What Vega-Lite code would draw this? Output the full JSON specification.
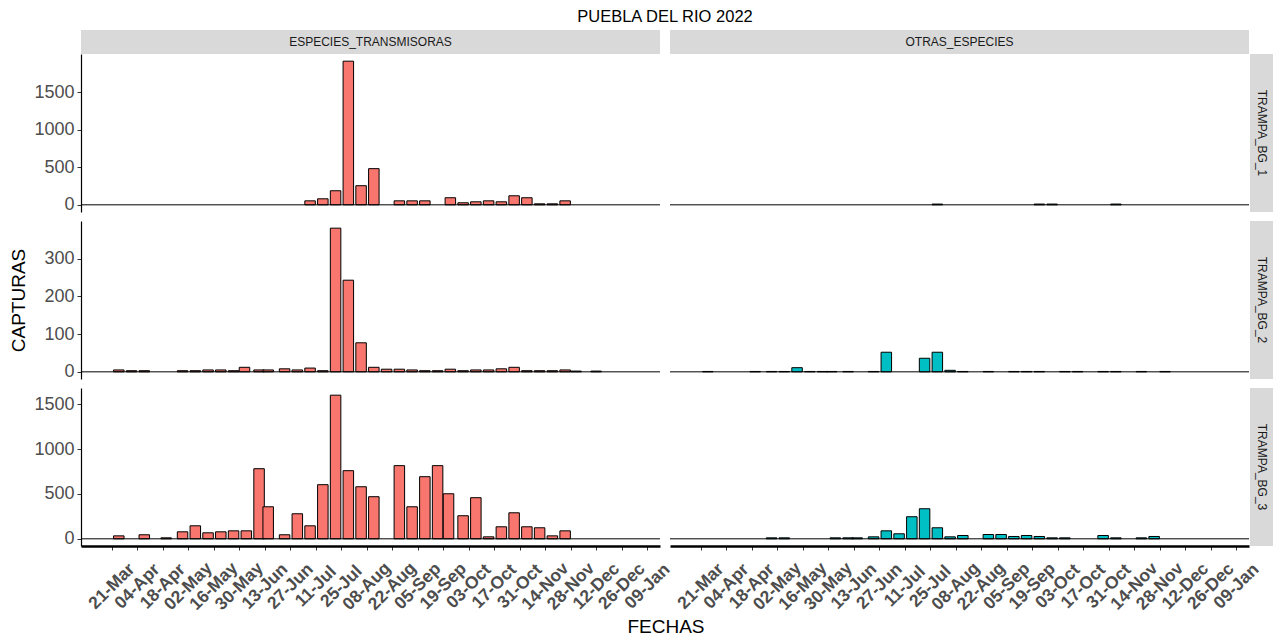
{
  "$schema": "https://vega.github.io/schema/vega-lite/v6.json",
  "padding": {"left": 9, "top": 8, "right": 5, "bottom": 5},
  "config": {
    "font": "Liberation Sans",
    "view": {"stroke": null},
    "axis": {"grid": false},
    "axisY": {"title": null, "format": "d", "labelFontSize": 18, "labelColor": "#4D4D4D", "labelPadding": 3, "tickSize": 4, "tickColor": "#333333", "domainColor": "black", "domainWidth": 1.2},
    "axisX": {"title": null, "labelAngle": -45, "labelAlign": "center", "labelBaseline": "middle", "labelPadding": 36, "labelFontSize": 17.5, "labelFontWeight": "bold", "labelColor": "#4D4D4D", "labelOverlap": false, "labelFlush": false, "labelBound": false, "tickSize": 4, "tickColor": "#333333", "tickWidth": 1, "domainColor": "black", "domainWidth": 2.5}
  },
  "datasets": {
    "capturas": [
      {"trampa": "TRAMPA_BG_1", "grupo": "ESPECIES_TRANSMISORAS", "fecha": "2022-07-08", "capturas": 53},
      {"trampa": "TRAMPA_BG_1", "grupo": "ESPECIES_TRANSMISORAS", "fecha": "2022-07-15", "capturas": 80},
      {"trampa": "TRAMPA_BG_1", "grupo": "ESPECIES_TRANSMISORAS", "fecha": "2022-07-22", "capturas": 187},
      {"trampa": "TRAMPA_BG_1", "grupo": "ESPECIES_TRANSMISORAS", "fecha": "2022-07-29", "capturas": 1910},
      {"trampa": "TRAMPA_BG_1", "grupo": "ESPECIES_TRANSMISORAS", "fecha": "2022-08-05", "capturas": 254},
      {"trampa": "TRAMPA_BG_1", "grupo": "ESPECIES_TRANSMISORAS", "fecha": "2022-08-12", "capturas": 481},
      {"trampa": "TRAMPA_BG_1", "grupo": "ESPECIES_TRANSMISORAS", "fecha": "2022-08-26", "capturas": 53},
      {"trampa": "TRAMPA_BG_1", "grupo": "ESPECIES_TRANSMISORAS", "fecha": "2022-09-02", "capturas": 53},
      {"trampa": "TRAMPA_BG_1", "grupo": "ESPECIES_TRANSMISORAS", "fecha": "2022-09-09", "capturas": 53},
      {"trampa": "TRAMPA_BG_1", "grupo": "ESPECIES_TRANSMISORAS", "fecha": "2022-09-23", "capturas": 94},
      {"trampa": "TRAMPA_BG_1", "grupo": "ESPECIES_TRANSMISORAS", "fecha": "2022-09-30", "capturas": 27},
      {"trampa": "TRAMPA_BG_1", "grupo": "ESPECIES_TRANSMISORAS", "fecha": "2022-10-07", "capturas": 40},
      {"trampa": "TRAMPA_BG_1", "grupo": "ESPECIES_TRANSMISORAS", "fecha": "2022-10-14", "capturas": 53},
      {"trampa": "TRAMPA_BG_1", "grupo": "ESPECIES_TRANSMISORAS", "fecha": "2022-10-21", "capturas": 40},
      {"trampa": "TRAMPA_BG_1", "grupo": "ESPECIES_TRANSMISORAS", "fecha": "2022-10-28", "capturas": 120},
      {"trampa": "TRAMPA_BG_1", "grupo": "ESPECIES_TRANSMISORAS", "fecha": "2022-11-04", "capturas": 94},
      {"trampa": "TRAMPA_BG_1", "grupo": "ESPECIES_TRANSMISORAS", "fecha": "2022-11-11", "capturas": 13},
      {"trampa": "TRAMPA_BG_1", "grupo": "ESPECIES_TRANSMISORAS", "fecha": "2022-11-18", "capturas": 13},
      {"trampa": "TRAMPA_BG_1", "grupo": "ESPECIES_TRANSMISORAS", "fecha": "2022-11-25", "capturas": 53},
      {"trampa": "TRAMPA_BG_1", "grupo": "OTRAS_ESPECIES", "fecha": "2022-07-29", "capturas": 10},
      {"trampa": "TRAMPA_BG_1", "grupo": "OTRAS_ESPECIES", "fecha": "2022-09-23", "capturas": 10},
      {"trampa": "TRAMPA_BG_1", "grupo": "OTRAS_ESPECIES", "fecha": "2022-09-30", "capturas": 10},
      {"trampa": "TRAMPA_BG_1", "grupo": "OTRAS_ESPECIES", "fecha": "2022-11-04", "capturas": 10},
      {"trampa": "TRAMPA_BG_2", "grupo": "ESPECIES_TRANSMISORAS", "fecha": "2022-03-25", "capturas": 5},
      {"trampa": "TRAMPA_BG_2", "grupo": "ESPECIES_TRANSMISORAS", "fecha": "2022-04-01", "capturas": 3},
      {"trampa": "TRAMPA_BG_2", "grupo": "ESPECIES_TRANSMISORAS", "fecha": "2022-04-08", "capturas": 3},
      {"trampa": "TRAMPA_BG_2", "grupo": "ESPECIES_TRANSMISORAS", "fecha": "2022-04-29", "capturas": 3},
      {"trampa": "TRAMPA_BG_2", "grupo": "ESPECIES_TRANSMISORAS", "fecha": "2022-05-06", "capturas": 3},
      {"trampa": "TRAMPA_BG_2", "grupo": "ESPECIES_TRANSMISORAS", "fecha": "2022-05-13", "capturas": 5},
      {"trampa": "TRAMPA_BG_2", "grupo": "ESPECIES_TRANSMISORAS", "fecha": "2022-05-20", "capturas": 5},
      {"trampa": "TRAMPA_BG_2", "grupo": "ESPECIES_TRANSMISORAS", "fecha": "2022-05-27", "capturas": 3},
      {"trampa": "TRAMPA_BG_2", "grupo": "ESPECIES_TRANSMISORAS", "fecha": "2022-06-02", "capturas": 12},
      {"trampa": "TRAMPA_BG_2", "grupo": "ESPECIES_TRANSMISORAS", "fecha": "2022-06-10", "capturas": 5},
      {"trampa": "TRAMPA_BG_2", "grupo": "ESPECIES_TRANSMISORAS", "fecha": "2022-06-15", "capturas": 5},
      {"trampa": "TRAMPA_BG_2", "grupo": "ESPECIES_TRANSMISORAS", "fecha": "2022-06-24", "capturas": 8},
      {"trampa": "TRAMPA_BG_2", "grupo": "ESPECIES_TRANSMISORAS", "fecha": "2022-07-01", "capturas": 5},
      {"trampa": "TRAMPA_BG_2", "grupo": "ESPECIES_TRANSMISORAS", "fecha": "2022-07-08", "capturas": 10},
      {"trampa": "TRAMPA_BG_2", "grupo": "ESPECIES_TRANSMISORAS", "fecha": "2022-07-15", "capturas": 3},
      {"trampa": "TRAMPA_BG_2", "grupo": "ESPECIES_TRANSMISORAS", "fecha": "2022-07-22", "capturas": 381},
      {"trampa": "TRAMPA_BG_2", "grupo": "ESPECIES_TRANSMISORAS", "fecha": "2022-07-29", "capturas": 243},
      {"trampa": "TRAMPA_BG_2", "grupo": "ESPECIES_TRANSMISORAS", "fecha": "2022-08-05", "capturas": 77},
      {"trampa": "TRAMPA_BG_2", "grupo": "ESPECIES_TRANSMISORAS", "fecha": "2022-08-12", "capturas": 12},
      {"trampa": "TRAMPA_BG_2", "grupo": "ESPECIES_TRANSMISORAS", "fecha": "2022-08-19", "capturas": 7},
      {"trampa": "TRAMPA_BG_2", "grupo": "ESPECIES_TRANSMISORAS", "fecha": "2022-08-26", "capturas": 7},
      {"trampa": "TRAMPA_BG_2", "grupo": "ESPECIES_TRANSMISORAS", "fecha": "2022-09-02", "capturas": 5},
      {"trampa": "TRAMPA_BG_2", "grupo": "ESPECIES_TRANSMISORAS", "fecha": "2022-09-09", "capturas": 3},
      {"trampa": "TRAMPA_BG_2", "grupo": "ESPECIES_TRANSMISORAS", "fecha": "2022-09-16", "capturas": 3},
      {"trampa": "TRAMPA_BG_2", "grupo": "ESPECIES_TRANSMISORAS", "fecha": "2022-09-23", "capturas": 7},
      {"trampa": "TRAMPA_BG_2", "grupo": "ESPECIES_TRANSMISORAS", "fecha": "2022-09-30", "capturas": 3},
      {"trampa": "TRAMPA_BG_2", "grupo": "ESPECIES_TRANSMISORAS", "fecha": "2022-10-07", "capturas": 5},
      {"trampa": "TRAMPA_BG_2", "grupo": "ESPECIES_TRANSMISORAS", "fecha": "2022-10-14", "capturas": 5},
      {"trampa": "TRAMPA_BG_2", "grupo": "ESPECIES_TRANSMISORAS", "fecha": "2022-10-21", "capturas": 8},
      {"trampa": "TRAMPA_BG_2", "grupo": "ESPECIES_TRANSMISORAS", "fecha": "2022-10-28", "capturas": 12},
      {"trampa": "TRAMPA_BG_2", "grupo": "ESPECIES_TRANSMISORAS", "fecha": "2022-11-04", "capturas": 3},
      {"trampa": "TRAMPA_BG_2", "grupo": "ESPECIES_TRANSMISORAS", "fecha": "2022-11-11", "capturas": 3},
      {"trampa": "TRAMPA_BG_2", "grupo": "ESPECIES_TRANSMISORAS", "fecha": "2022-11-18", "capturas": 3},
      {"trampa": "TRAMPA_BG_2", "grupo": "ESPECIES_TRANSMISORAS", "fecha": "2022-11-25", "capturas": 5},
      {"trampa": "TRAMPA_BG_2", "grupo": "ESPECIES_TRANSMISORAS", "fecha": "2022-12-01", "capturas": 2},
      {"trampa": "TRAMPA_BG_2", "grupo": "ESPECIES_TRANSMISORAS", "fecha": "2022-12-12", "capturas": 2},
      {"trampa": "TRAMPA_BG_2", "grupo": "OTRAS_ESPECIES", "fecha": "2022-03-25", "capturas": 1},
      {"trampa": "TRAMPA_BG_2", "grupo": "OTRAS_ESPECIES", "fecha": "2022-04-20", "capturas": 1},
      {"trampa": "TRAMPA_BG_2", "grupo": "OTRAS_ESPECIES", "fecha": "2022-04-29", "capturas": 1},
      {"trampa": "TRAMPA_BG_2", "grupo": "OTRAS_ESPECIES", "fecha": "2022-05-06", "capturas": 1},
      {"trampa": "TRAMPA_BG_2", "grupo": "OTRAS_ESPECIES", "fecha": "2022-05-13", "capturas": 11},
      {"trampa": "TRAMPA_BG_2", "grupo": "OTRAS_ESPECIES", "fecha": "2022-05-20", "capturas": 1},
      {"trampa": "TRAMPA_BG_2", "grupo": "OTRAS_ESPECIES", "fecha": "2022-05-27", "capturas": 1},
      {"trampa": "TRAMPA_BG_2", "grupo": "OTRAS_ESPECIES", "fecha": "2022-06-01", "capturas": 1},
      {"trampa": "TRAMPA_BG_2", "grupo": "OTRAS_ESPECIES", "fecha": "2022-06-10", "capturas": 1},
      {"trampa": "TRAMPA_BG_2", "grupo": "OTRAS_ESPECIES", "fecha": "2022-06-24", "capturas": 1},
      {"trampa": "TRAMPA_BG_2", "grupo": "OTRAS_ESPECIES", "fecha": "2022-07-01", "capturas": 52},
      {"trampa": "TRAMPA_BG_2", "grupo": "OTRAS_ESPECIES", "fecha": "2022-07-22", "capturas": 36},
      {"trampa": "TRAMPA_BG_2", "grupo": "OTRAS_ESPECIES", "fecha": "2022-07-29", "capturas": 52},
      {"trampa": "TRAMPA_BG_2", "grupo": "OTRAS_ESPECIES", "fecha": "2022-08-05", "capturas": 4},
      {"trampa": "TRAMPA_BG_2", "grupo": "OTRAS_ESPECIES", "fecha": "2022-08-12", "capturas": 1},
      {"trampa": "TRAMPA_BG_2", "grupo": "OTRAS_ESPECIES", "fecha": "2022-08-26", "capturas": 1},
      {"trampa": "TRAMPA_BG_2", "grupo": "OTRAS_ESPECIES", "fecha": "2022-09-09", "capturas": 1},
      {"trampa": "TRAMPA_BG_2", "grupo": "OTRAS_ESPECIES", "fecha": "2022-09-16", "capturas": 1},
      {"trampa": "TRAMPA_BG_2", "grupo": "OTRAS_ESPECIES", "fecha": "2022-09-23", "capturas": 1},
      {"trampa": "TRAMPA_BG_2", "grupo": "OTRAS_ESPECIES", "fecha": "2022-10-07", "capturas": 1},
      {"trampa": "TRAMPA_BG_2", "grupo": "OTRAS_ESPECIES", "fecha": "2022-10-14", "capturas": 1},
      {"trampa": "TRAMPA_BG_2", "grupo": "OTRAS_ESPECIES", "fecha": "2022-10-28", "capturas": 1},
      {"trampa": "TRAMPA_BG_2", "grupo": "OTRAS_ESPECIES", "fecha": "2022-11-04", "capturas": 1},
      {"trampa": "TRAMPA_BG_2", "grupo": "OTRAS_ESPECIES", "fecha": "2022-11-18", "capturas": 1},
      {"trampa": "TRAMPA_BG_2", "grupo": "OTRAS_ESPECIES", "fecha": "2022-12-01", "capturas": 1},
      {"trampa": "TRAMPA_BG_3", "grupo": "ESPECIES_TRANSMISORAS", "fecha": "2022-03-25", "capturas": 33},
      {"trampa": "TRAMPA_BG_3", "grupo": "ESPECIES_TRANSMISORAS", "fecha": "2022-04-08", "capturas": 45},
      {"trampa": "TRAMPA_BG_3", "grupo": "ESPECIES_TRANSMISORAS", "fecha": "2022-04-20", "capturas": 11},
      {"trampa": "TRAMPA_BG_3", "grupo": "ESPECIES_TRANSMISORAS", "fecha": "2022-04-29", "capturas": 78},
      {"trampa": "TRAMPA_BG_3", "grupo": "ESPECIES_TRANSMISORAS", "fecha": "2022-05-06", "capturas": 145},
      {"trampa": "TRAMPA_BG_3", "grupo": "ESPECIES_TRANSMISORAS", "fecha": "2022-05-13", "capturas": 67},
      {"trampa": "TRAMPA_BG_3", "grupo": "ESPECIES_TRANSMISORAS", "fecha": "2022-05-20", "capturas": 78},
      {"trampa": "TRAMPA_BG_3", "grupo": "ESPECIES_TRANSMISORAS", "fecha": "2022-05-27", "capturas": 89},
      {"trampa": "TRAMPA_BG_3", "grupo": "ESPECIES_TRANSMISORAS", "fecha": "2022-06-03", "capturas": 89},
      {"trampa": "TRAMPA_BG_3", "grupo": "ESPECIES_TRANSMISORAS", "fecha": "2022-06-10", "capturas": 781},
      {"trampa": "TRAMPA_BG_3", "grupo": "ESPECIES_TRANSMISORAS", "fecha": "2022-06-15", "capturas": 357},
      {"trampa": "TRAMPA_BG_3", "grupo": "ESPECIES_TRANSMISORAS", "fecha": "2022-06-24", "capturas": 45},
      {"trampa": "TRAMPA_BG_3", "grupo": "ESPECIES_TRANSMISORAS", "fecha": "2022-07-01", "capturas": 279},
      {"trampa": "TRAMPA_BG_3", "grupo": "ESPECIES_TRANSMISORAS", "fecha": "2022-07-08", "capturas": 145},
      {"trampa": "TRAMPA_BG_3", "grupo": "ESPECIES_TRANSMISORAS", "fecha": "2022-07-15", "capturas": 603},
      {"trampa": "TRAMPA_BG_3", "grupo": "ESPECIES_TRANSMISORAS", "fecha": "2022-07-22", "capturas": 1600},
      {"trampa": "TRAMPA_BG_3", "grupo": "ESPECIES_TRANSMISORAS", "fecha": "2022-07-29", "capturas": 759},
      {"trampa": "TRAMPA_BG_3", "grupo": "ESPECIES_TRANSMISORAS", "fecha": "2022-08-05", "capturas": 580},
      {"trampa": "TRAMPA_BG_3", "grupo": "ESPECIES_TRANSMISORAS", "fecha": "2022-08-12", "capturas": 469},
      {"trampa": "TRAMPA_BG_3", "grupo": "ESPECIES_TRANSMISORAS", "fecha": "2022-08-26", "capturas": 815},
      {"trampa": "TRAMPA_BG_3", "grupo": "ESPECIES_TRANSMISORAS", "fecha": "2022-09-02", "capturas": 357},
      {"trampa": "TRAMPA_BG_3", "grupo": "ESPECIES_TRANSMISORAS", "fecha": "2022-09-09", "capturas": 692},
      {"trampa": "TRAMPA_BG_3", "grupo": "ESPECIES_TRANSMISORAS", "fecha": "2022-09-16", "capturas": 815},
      {"trampa": "TRAMPA_BG_3", "grupo": "ESPECIES_TRANSMISORAS", "fecha": "2022-09-22", "capturas": 502},
      {"trampa": "TRAMPA_BG_3", "grupo": "ESPECIES_TRANSMISORAS", "fecha": "2022-09-30", "capturas": 257},
      {"trampa": "TRAMPA_BG_3", "grupo": "ESPECIES_TRANSMISORAS", "fecha": "2022-10-07", "capturas": 458},
      {"trampa": "TRAMPA_BG_3", "grupo": "ESPECIES_TRANSMISORAS", "fecha": "2022-10-14", "capturas": 22},
      {"trampa": "TRAMPA_BG_3", "grupo": "ESPECIES_TRANSMISORAS", "fecha": "2022-10-21", "capturas": 134},
      {"trampa": "TRAMPA_BG_3", "grupo": "ESPECIES_TRANSMISORAS", "fecha": "2022-10-28", "capturas": 290},
      {"trampa": "TRAMPA_BG_3", "grupo": "ESPECIES_TRANSMISORAS", "fecha": "2022-11-04", "capturas": 134},
      {"trampa": "TRAMPA_BG_3", "grupo": "ESPECIES_TRANSMISORAS", "fecha": "2022-11-11", "capturas": 123},
      {"trampa": "TRAMPA_BG_3", "grupo": "ESPECIES_TRANSMISORAS", "fecha": "2022-11-18", "capturas": 33},
      {"trampa": "TRAMPA_BG_3", "grupo": "ESPECIES_TRANSMISORAS", "fecha": "2022-11-25", "capturas": 89},
      {"trampa": "TRAMPA_BG_3", "grupo": "OTRAS_ESPECIES", "fecha": "2022-04-29", "capturas": 11},
      {"trampa": "TRAMPA_BG_3", "grupo": "OTRAS_ESPECIES", "fecha": "2022-05-06", "capturas": 11},
      {"trampa": "TRAMPA_BG_3", "grupo": "OTRAS_ESPECIES", "fecha": "2022-06-03", "capturas": 11},
      {"trampa": "TRAMPA_BG_3", "grupo": "OTRAS_ESPECIES", "fecha": "2022-06-10", "capturas": 11},
      {"trampa": "TRAMPA_BG_3", "grupo": "OTRAS_ESPECIES", "fecha": "2022-06-15", "capturas": 11},
      {"trampa": "TRAMPA_BG_3", "grupo": "OTRAS_ESPECIES", "fecha": "2022-06-24", "capturas": 22},
      {"trampa": "TRAMPA_BG_3", "grupo": "OTRAS_ESPECIES", "fecha": "2022-07-01", "capturas": 89},
      {"trampa": "TRAMPA_BG_3", "grupo": "OTRAS_ESPECIES", "fecha": "2022-07-08", "capturas": 56},
      {"trampa": "TRAMPA_BG_3", "grupo": "OTRAS_ESPECIES", "fecha": "2022-07-15", "capturas": 246},
      {"trampa": "TRAMPA_BG_3", "grupo": "OTRAS_ESPECIES", "fecha": "2022-07-22", "capturas": 335},
      {"trampa": "TRAMPA_BG_3", "grupo": "OTRAS_ESPECIES", "fecha": "2022-07-29", "capturas": 123},
      {"trampa": "TRAMPA_BG_3", "grupo": "OTRAS_ESPECIES", "fecha": "2022-08-05", "capturas": 22},
      {"trampa": "TRAMPA_BG_3", "grupo": "OTRAS_ESPECIES", "fecha": "2022-08-12", "capturas": 37},
      {"trampa": "TRAMPA_BG_3", "grupo": "OTRAS_ESPECIES", "fecha": "2022-08-26", "capturas": 48},
      {"trampa": "TRAMPA_BG_3", "grupo": "OTRAS_ESPECIES", "fecha": "2022-09-02", "capturas": 48},
      {"trampa": "TRAMPA_BG_3", "grupo": "OTRAS_ESPECIES", "fecha": "2022-09-09", "capturas": 26},
      {"trampa": "TRAMPA_BG_3", "grupo": "OTRAS_ESPECIES", "fecha": "2022-09-16", "capturas": 37},
      {"trampa": "TRAMPA_BG_3", "grupo": "OTRAS_ESPECIES", "fecha": "2022-09-23", "capturas": 26},
      {"trampa": "TRAMPA_BG_3", "grupo": "OTRAS_ESPECIES", "fecha": "2022-09-30", "capturas": 11},
      {"trampa": "TRAMPA_BG_3", "grupo": "OTRAS_ESPECIES", "fecha": "2022-10-07", "capturas": 11},
      {"trampa": "TRAMPA_BG_3", "grupo": "OTRAS_ESPECIES", "fecha": "2022-10-28", "capturas": 37},
      {"trampa": "TRAMPA_BG_3", "grupo": "OTRAS_ESPECIES", "fecha": "2022-11-04", "capturas": 11},
      {"trampa": "TRAMPA_BG_3", "grupo": "OTRAS_ESPECIES", "fecha": "2022-11-18", "capturas": 11},
      {"trampa": "TRAMPA_BG_3", "grupo": "OTRAS_ESPECIES", "fecha": "2022-11-25", "capturas": 26}
    ]
  },
  "columns": 5,
  "bounds": "flush",
  "align": "each",
  "spacing": 0,
  "concat": [
    {
      "width": 579, "height": 24,
      "title": {"text": "PUEBLA DEL RIO 2022", "fontSize": 16.5, "fontWeight": "normal", "color": "black", "anchor": "middle", "frame": "group", "dx": 294.5, "offset": 5},
      "view": {"fill": "#D9D9D9", "stroke": null},
      "data": {"values": [{"t": "ESPECIES_TRANSMISORAS"}]},
      "mark": {"type": "text", "fontSize": 12, "color": "#1A1A1A"},
      "encoding": {"text": {"field": "t", "type": "nominal"}}
    },
    {"width": 10, "height": 1, "data": {"values": []}, "mark": {"type": "point", "opacity": 0}},
    {
      "width": 579, "height": 24,
      "view": {"fill": "#D9D9D9", "stroke": null},
      "data": {"values": [{"t": "OTRAS_ESPECIES"}]},
      "mark": {"type": "text", "fontSize": 12, "color": "#1A1A1A"},
      "encoding": {"text": {"field": "t", "type": "nominal"}}
    },
    {"width": 1, "height": 1, "data": {"values": []}, "mark": {"type": "point", "opacity": 0}},
    {"width": 1, "height": 1, "data": {"values": []}, "mark": {"type": "point", "opacity": 0}},

    {
      "width": 579, "height": 158,
      "layer": [
        {
          "data": {"name": "capturas"},
          "transform": [{"filter": "datum.trampa === 'TRAMPA_BG_1' && datum.grupo === 'ESPECIES_TRANSMISORAS'"}],
          "mark": {"type": "bar", "size": 10.5, "color": "#F8766D", "stroke": "black", "strokeWidth": 1},
          "encoding": {
            "x": {"field": "fecha", "type": "temporal", "scale": {"type": "utc", "domain": [{"year": 2022, "month": 3, "date": 7, "utc": true}, {"year": 2023, "month": 1, "date": 13, "hours": 8, "utc": true}]}, "axis": null},
            "y": {"field": "capturas", "type": "quantitative", "scale": {"domain": [-95.5, 2005.5], "nice": false}, "axis": {"values": [0, 500, 1000, 1500]}}
          }
        },
        {"data": {"values": [{}]}, "mark": {"type": "rule", "color": "black", "strokeWidth": 1}, "encoding": {"y": {"datum": 0, "type": "quantitative"}}}
      ]
    },
    {"width": 10, "height": 1, "data": {"values": []}, "mark": {"type": "point", "opacity": 0}},
    {
      "width": 579, "height": 158,
      "layer": [
        {
          "data": {"name": "capturas"},
          "transform": [{"filter": "datum.trampa === 'TRAMPA_BG_1' && datum.grupo === 'OTRAS_ESPECIES'"}],
          "mark": {"type": "bar", "size": 10.5, "color": "#00BFC4", "stroke": "black", "strokeWidth": 1},
          "encoding": {
            "x": {"field": "fecha", "type": "temporal", "scale": {"type": "utc", "domain": [{"year": 2022, "month": 3, "date": 7, "utc": true}, {"year": 2023, "month": 1, "date": 13, "hours": 8, "utc": true}]}, "axis": null},
            "y": {"field": "capturas", "type": "quantitative", "scale": {"domain": [-95.5, 2005.5], "nice": false}, "axis": null}
          }
        },
        {"data": {"values": [{}]}, "mark": {"type": "rule", "color": "black", "strokeWidth": 1}, "encoding": {"y": {"datum": 0, "type": "quantitative"}}}
      ]
    },
    {"width": 1, "height": 1, "data": {"values": []}, "mark": {"type": "point", "opacity": 0}},
    {
      "width": 23, "height": 158,
      "view": {"fill": "#D9D9D9", "stroke": null},
      "data": {"values": [{"t": "TRAMPA_BG_1"}]},
      "mark": {"type": "text", "angle": 90, "fontSize": 12, "color": "#1A1A1A"},
      "encoding": {"text": {"field": "t", "type": "nominal"}}
    },

    {"width": 1, "height": 9, "data": {"values": []}, "mark": {"type": "point", "opacity": 0}},
    {"width": 10, "height": 9, "data": {"values": []}, "mark": {"type": "point", "opacity": 0}},
    {"width": 1, "height": 9, "data": {"values": []}, "mark": {"type": "point", "opacity": 0}},
    {"width": 1, "height": 9, "data": {"values": []}, "mark": {"type": "point", "opacity": 0}},
    {"width": 1, "height": 9, "data": {"values": []}, "mark": {"type": "point", "opacity": 0}},

    {
      "width": 579, "height": 158,
      "layer": [
        {
          "data": {"name": "capturas"},
          "transform": [{"filter": "datum.trampa === 'TRAMPA_BG_2' && datum.grupo === 'ESPECIES_TRANSMISORAS'"}],
          "mark": {"type": "bar", "size": 10.5, "color": "#F8766D", "stroke": "black", "strokeWidth": 1},
          "encoding": {
            "x": {"field": "fecha", "type": "temporal", "scale": {"type": "utc", "domain": [{"year": 2022, "month": 3, "date": 7, "utc": true}, {"year": 2023, "month": 1, "date": 13, "hours": 8, "utc": true}]}, "axis": null},
            "y": {"field": "capturas", "type": "quantitative", "scale": {"domain": [-19, 400], "nice": false}, "axis": {"values": [0, 100, 200, 300], "title": "CAPTURAS", "titleFontSize": 19, "titleFontWeight": "normal", "titleColor": "black", "titlePadding": 15}}
          }
        },
        {"data": {"values": [{}]}, "mark": {"type": "rule", "color": "black", "strokeWidth": 1}, "encoding": {"y": {"datum": 0, "type": "quantitative"}}}
      ]
    },
    {"width": 10, "height": 1, "data": {"values": []}, "mark": {"type": "point", "opacity": 0}},
    {
      "width": 579, "height": 158,
      "layer": [
        {
          "data": {"name": "capturas"},
          "transform": [{"filter": "datum.trampa === 'TRAMPA_BG_2' && datum.grupo === 'OTRAS_ESPECIES'"}],
          "mark": {"type": "bar", "size": 10.5, "color": "#00BFC4", "stroke": "black", "strokeWidth": 1},
          "encoding": {
            "x": {"field": "fecha", "type": "temporal", "scale": {"type": "utc", "domain": [{"year": 2022, "month": 3, "date": 7, "utc": true}, {"year": 2023, "month": 1, "date": 13, "hours": 8, "utc": true}]}, "axis": null},
            "y": {"field": "capturas", "type": "quantitative", "scale": {"domain": [-19, 400], "nice": false}, "axis": null}
          }
        },
        {"data": {"values": [{}]}, "mark": {"type": "rule", "color": "black", "strokeWidth": 1}, "encoding": {"y": {"datum": 0, "type": "quantitative"}}}
      ]
    },
    {"width": 1, "height": 1, "data": {"values": []}, "mark": {"type": "point", "opacity": 0}},
    {
      "width": 23, "height": 158,
      "view": {"fill": "#D9D9D9", "stroke": null},
      "data": {"values": [{"t": "TRAMPA_BG_2"}]},
      "mark": {"type": "text", "angle": 90, "fontSize": 12, "color": "#1A1A1A"},
      "encoding": {"text": {"field": "t", "type": "nominal"}}
    },

    {"width": 1, "height": 9, "data": {"values": []}, "mark": {"type": "point", "opacity": 0}},
    {"width": 10, "height": 9, "data": {"values": []}, "mark": {"type": "point", "opacity": 0}},
    {"width": 1, "height": 9, "data": {"values": []}, "mark": {"type": "point", "opacity": 0}},
    {"width": 1, "height": 9, "data": {"values": []}, "mark": {"type": "point", "opacity": 0}},
    {"width": 1, "height": 9, "data": {"values": []}, "mark": {"type": "point", "opacity": 0}},

    {
      "width": 579, "height": 158,
      "layer": [
        {
          "data": {"name": "capturas"},
          "transform": [{"filter": "datum.trampa === 'TRAMPA_BG_3' && datum.grupo === 'ESPECIES_TRANSMISORAS'"}],
          "mark": {"type": "bar", "size": 10.5, "color": "#F8766D", "stroke": "black", "strokeWidth": 1},
          "encoding": {
            "x": {"field": "fecha", "type": "temporal", "scale": {"type": "utc", "domain": [{"year": 2022, "month": 3, "date": 7, "utc": true}, {"year": 2023, "month": 1, "date": 13, "hours": 8, "utc": true}]},
              "axis": {"values": [{"year": 2022, "month": 3, "date": 21, "utc": true}, {"year": 2022, "month": 4, "date": 4, "utc": true}, {"year": 2022, "month": 4, "date": 18, "utc": true}, {"year": 2022, "month": 5, "date": 2, "utc": true}, {"year": 2022, "month": 5, "date": 16, "utc": true}, {"year": 2022, "month": 5, "date": 30, "utc": true}, {"year": 2022, "month": 6, "date": 13, "utc": true}, {"year": 2022, "month": 6, "date": 27, "utc": true}, {"year": 2022, "month": 7, "date": 11, "utc": true}, {"year": 2022, "month": 7, "date": 25, "utc": true}, {"year": 2022, "month": 8, "date": 8, "utc": true}, {"year": 2022, "month": 8, "date": 22, "utc": true}, {"year": 2022, "month": 9, "date": 5, "utc": true}, {"year": 2022, "month": 9, "date": 19, "utc": true}, {"year": 2022, "month": 10, "date": 3, "utc": true}, {"year": 2022, "month": 10, "date": 17, "utc": true}, {"year": 2022, "month": 10, "date": 31, "utc": true}, {"year": 2022, "month": 11, "date": 14, "utc": true}, {"year": 2022, "month": 11, "date": 28, "utc": true}, {"year": 2022, "month": 12, "date": 12, "utc": true}, {"year": 2022, "month": 12, "date": 26, "utc": true}, {"year": 2023, "month": 1, "date": 9, "utc": true}], "format": "%d-%b",
                "title": "FECHAS", "titleX": 584.5, "titleFontSize": 19, "titleFontWeight": "normal", "titleColor": "black", "titlePadding": 5}},
            "y": {"field": "capturas", "type": "quantitative", "scale": {"domain": [-80, 1680], "nice": false}, "axis": {"values": [0, 500, 1000, 1500]}}
          }
        },
        {"data": {"values": [{}]}, "mark": {"type": "rule", "color": "black", "strokeWidth": 1}, "encoding": {"y": {"datum": 0, "type": "quantitative"}}}
      ]
    },
    {"width": 10, "height": 1, "data": {"values": []}, "mark": {"type": "point", "opacity": 0}},
    {
      "width": 579, "height": 158,
      "layer": [
        {
          "data": {"name": "capturas"},
          "transform": [{"filter": "datum.trampa === 'TRAMPA_BG_3' && datum.grupo === 'OTRAS_ESPECIES'"}],
          "mark": {"type": "bar", "size": 10.5, "color": "#00BFC4", "stroke": "black", "strokeWidth": 1},
          "encoding": {
            "x": {"field": "fecha", "type": "temporal", "scale": {"type": "utc", "domain": [{"year": 2022, "month": 3, "date": 7, "utc": true}, {"year": 2023, "month": 1, "date": 13, "hours": 8, "utc": true}]},
              "axis": {"values": [{"year": 2022, "month": 3, "date": 21, "utc": true}, {"year": 2022, "month": 4, "date": 4, "utc": true}, {"year": 2022, "month": 4, "date": 18, "utc": true}, {"year": 2022, "month": 5, "date": 2, "utc": true}, {"year": 2022, "month": 5, "date": 16, "utc": true}, {"year": 2022, "month": 5, "date": 30, "utc": true}, {"year": 2022, "month": 6, "date": 13, "utc": true}, {"year": 2022, "month": 6, "date": 27, "utc": true}, {"year": 2022, "month": 7, "date": 11, "utc": true}, {"year": 2022, "month": 7, "date": 25, "utc": true}, {"year": 2022, "month": 8, "date": 8, "utc": true}, {"year": 2022, "month": 8, "date": 22, "utc": true}, {"year": 2022, "month": 9, "date": 5, "utc": true}, {"year": 2022, "month": 9, "date": 19, "utc": true}, {"year": 2022, "month": 10, "date": 3, "utc": true}, {"year": 2022, "month": 10, "date": 17, "utc": true}, {"year": 2022, "month": 10, "date": 31, "utc": true}, {"year": 2022, "month": 11, "date": 14, "utc": true}, {"year": 2022, "month": 11, "date": 28, "utc": true}, {"year": 2022, "month": 12, "date": 12, "utc": true}, {"year": 2022, "month": 12, "date": 26, "utc": true}, {"year": 2023, "month": 1, "date": 9, "utc": true}], "format": "%d-%b"}},
            "y": {"field": "capturas", "type": "quantitative", "scale": {"domain": [-80, 1680], "nice": false}, "axis": null}
          }
        },
        {"data": {"values": [{}]}, "mark": {"type": "rule", "color": "black", "strokeWidth": 1}, "encoding": {"y": {"datum": 0, "type": "quantitative"}}}
      ]
    },
    {"width": 1, "height": 1, "data": {"values": []}, "mark": {"type": "point", "opacity": 0}},
    {
      "width": 23, "height": 158,
      "view": {"fill": "#D9D9D9", "stroke": null},
      "data": {"values": [{"t": "TRAMPA_BG_3"}]},
      "mark": {"type": "text", "angle": 90, "fontSize": 12, "color": "#1A1A1A"},
      "encoding": {"text": {"field": "t", "type": "nominal"}}
    }
  ]
}
